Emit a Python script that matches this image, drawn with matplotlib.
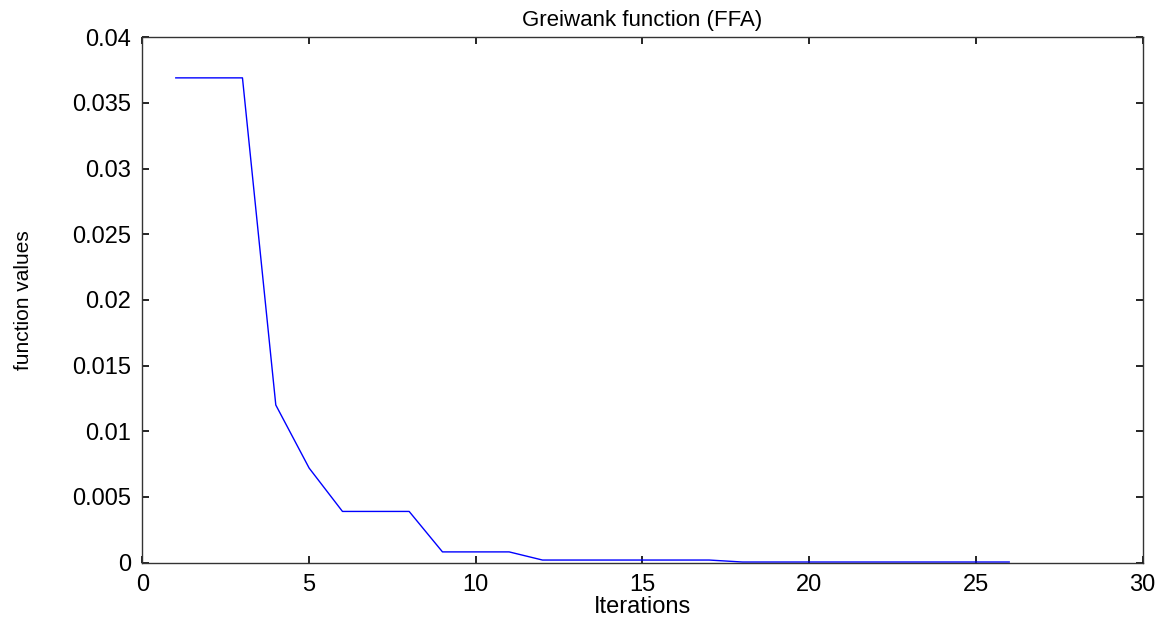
import numpy as np
import matplotlib
matplotlib.use('Agg')
from matplotlib import pyplot as plt

# values
iterations = list(range(1, 27))
function_values = [
    0.0369, 0.0369, 0.0369, 0.0120, 0.0072, 0.0039, 0.0039, 0.0039,
    0.00082, 0.00082, 0.00082, 0.0002, 0.0002, 0.0002, 0.0002, 0.0002,
    0.0002, 0.00005, 0.00005, 0.00005, 0.00005, 0.00005, 0.00005,
    0.00005, 0.00005, 0.00005,
]
x_ticks = [0, 5, 10, 15, 20, 25, 30]
y_ticks = [0, 0.005, 0.01, 0.015, 0.02, 0.025, 0.03, 0.035, 0.04]
y_tick_labels = ['0', '0.005', '0.01', '0.015', '0.02', '0.025', '0.03',
                 '0.035', '0.04']

plt.rcParams['font.family'] = ['Liberation Sans', 'DejaVu Sans']

fig = plt.figure(figsize=(11.61, 6.19), dpi=100)
axes = fig.add_axes([0.1227, 0.091, 0.8614, 0.849])
axes.plot(iterations, function_values, color='#0000ff', lw=1.0)

axes.set_xlim(0, 30)
axes.set_ylim(0, 0.04)
axes.set_xticks(x_ticks)
axes.set_yticks(y_ticks)
axes.set_yticklabels(y_tick_labels)
axes.tick_params(direction='in', length=5, width=1.2, top=True, right=True,
                 labelsize=17, pad=8)
for spine in axes.spines.values():
    spine.set_linewidth(1.0)
    spine.set_color('#333333')

axes.set_title('Greiwank function (FFA)', fontsize=16, pad=8)
axes.set_xlabel('Iterations', fontsize=17, labelpad=0)
axes.set_ylabel('function values', fontsize=15, labelpad=28,
                family=['Liberation Sans Narrow', 'Liberation Sans'])

fig.savefig('out.png', dpi=100)
plt.close(fig)
